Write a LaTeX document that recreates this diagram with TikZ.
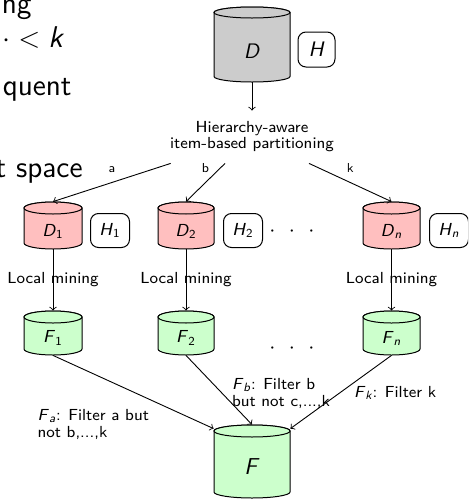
\documentclass[tikz,border=0pt]{standalone}
\usepackage{amsmath}
\usetikzlibrary{fit,calc}
\renewcommand{\familydefault}{\sfdefault}
\definecolor{dbgray}{RGB}{204,204,204}
\definecolor{dbred}{RGB}{255,191,191}
\definecolor{dbgreen}{RGB}{204,255,204}
\newcommand\vsub[2]{\textit{#1}$_{\text{#2}}$}
\newcommand\visub[2]{\textit{#1}$_{\text{\itshape #2}}$}
% name, cx, y of top ellipse centre, y of bottom ellipse centre, half width, y radius, colour (all in px)
\newcommand\dbcyl[7]{%
  \filldraw[cylline, fill=#7] ({#2-#5},#3) -- ({#2-#5},#4)
    arc[start angle=180, end angle=360, x radius=#5*0.5pt, y radius=#6*0.5pt]
    -- ({#2+#5},#3)
    arc[start angle=0, end angle=180, x radius=#5*0.5pt, y radius=#6*0.5pt] -- cycle;
  \filldraw[cylline, fill=#7] (#2,#3) ellipse[x radius=#5*0.5pt, y radius=#6*0.5pt];
  \node[fit={({#2-#5},{#3-#6}) ({#2+#5},{#4+#6})}, inner sep=0pt] (#1) {};
}
\begin{document}
\begin{tikzpicture}[x=0.5pt, y=-0.5pt,
  cylline/.style={line width=0.5pt},
  hbox/.style={draw, line width=0.5pt, rounded corners=4pt, minimum width=19.5pt, minimum height=17pt, inner sep=1pt},
  conn/.style={->, line width=0.45pt},
  bigtxt/.style={font=\fontsize{15}{18}\selectfont, inner sep=0pt},
  lbl/.style={font=\fontsize{8}{8.5}\selectfont},
  tinylbl/.style={font=\fontsize{6.5}{7}\selectfont, anchor=base, yshift=5pt},
  biglab/.style={font=\fontsize{10.5}{12}\selectfont},
  midlab/.style={font=\fontsize{8.7}{10}\selectfont},
  dotsn/.style={font=\fontsize{11}{12}\selectfont},
]
\useasboundingbox (0,0) rectangle (468,499);
\clip (0,0) rectangle (468,499);

% clipped background text
\node[bigtxt, anchor=base east] (bg1) at (32,13) {ng};
\node[bigtxt, anchor=base east] (bg2) at (63,47) {$\cdot<\textit{k}$};
\node[bigtxt, anchor=base east] (bg3) at (72,95) {quent};
\node[bigtxt, anchor=base east] (bg4) at (83,177) {t space};

% top database
\dbcyl{D}{252}{12.5}{76.5}{38}{5.5}{dbgray}
\node[biglab] (Dl) at (252,51) {\textit{D}};
\node[hbox, biglab, minimum width=18.5pt, minimum height=17.5pt] (H) at (316.5,49.5) {\textit{H}};

\node[lbl, align=center, minimum height=26pt, inner sep=1pt] (part) at (252,137)
  {Hierarchy-aware\\[-0.5pt]item-based partitioning};

% partitions
\dbcyl{D1}{53}{208}{243}{29}{6}{dbred}
\dbcyl{D2}{186}{208}{243}{28}{6}{dbred}
\dbcyl{Dn}{391.5}{208}{243}{28.5}{6}{dbred}
\node[midlab] (D1l) at (53,231) {\vsub{D}{1}};
\node[midlab] (D2l) at (186,231) {\vsub{D}{2}};
\node[midlab] (Dnl) at (391.5,231) {\visub{D}{n}};
\node[hbox, midlab] (H1) at (110,230.5) {\vsub{H}{1}};
\node[hbox, midlab] (H2) at (243,230.5) {\vsub{H}{2}};
\node[hbox, midlab] (Hn) at (449,230.5) {\visub{H}{n}};
\node[dotsn] (dots1) at (292,232) {$\cdot\hspace{4.3pt}\cdot\hspace{4.3pt}\cdot$};

% local frequent sets
\dbcyl{F1}{53}{317}{349}{29}{6}{dbgreen}
\dbcyl{F2}{186}{317}{349}{28}{6}{dbgreen}
\dbcyl{Fn}{391.5}{317}{349}{28.5}{6}{dbgreen}
\node[midlab] (F1l) at (53,338) {\vsub{F}{1}};
\node[midlab] (F2l) at (186,338) {\vsub{F}{2}};
\node[midlab] (Fnl) at (391.5,338) {\visub{F}{n}};
\node[dotsn] (dots2) at (292,349) {$\cdot\hspace{4.3pt}\cdot\hspace{4.3pt}\cdot$};

% result
\dbcyl{F}{252}{431}{492}{38}{6}{dbgreen}
\node[font=\fontsize{11.5}{13}\selectfont] (Fl) at (252,467) {\textit{F}};

\coordinate (Fa) at ($(F.north west)+(0,4)$);
\coordinate (Fk) at ($(F.north east)+(0,4)$);

% connectors
\draw[conn] (D.south) -- (part);
\draw[conn] (part) -- (D1.north) node[midway, tinylbl] {a};
\draw[conn] (part) -- (D2.north) node[midway, tinylbl] {b};
\draw[conn] (part) -- (Dn.north) node[midway, tinylbl] {k};

\draw[conn] (D1) -- (F1) node[midway, lbl] {Local mining};
\draw[conn] (D2) -- (F2) node[midway, lbl] {Local mining};
\draw[conn] (Dn) -- (Fn) node[midway, lbl] {Local mining};

\draw[conn] (F1.south) -- (Fa);
\draw[conn] (F2.south) -- (F.north);
\draw[conn] (Fn.south) -- (Fk);

\node[lbl, align=left, anchor=north east] (la) at (156,402) {\visub{F}{a}: Filter a but\\not b,...,k};
\node[lbl, align=left, anchor=north west] (lb) at (225,371) {\visub{F}{b}: Filter b\\but not c,...,k};
\node[lbl, anchor=base west] (lk) at (347,397) {\visub{F}{k}: Filter k};
\end{tikzpicture}
\end{document}
